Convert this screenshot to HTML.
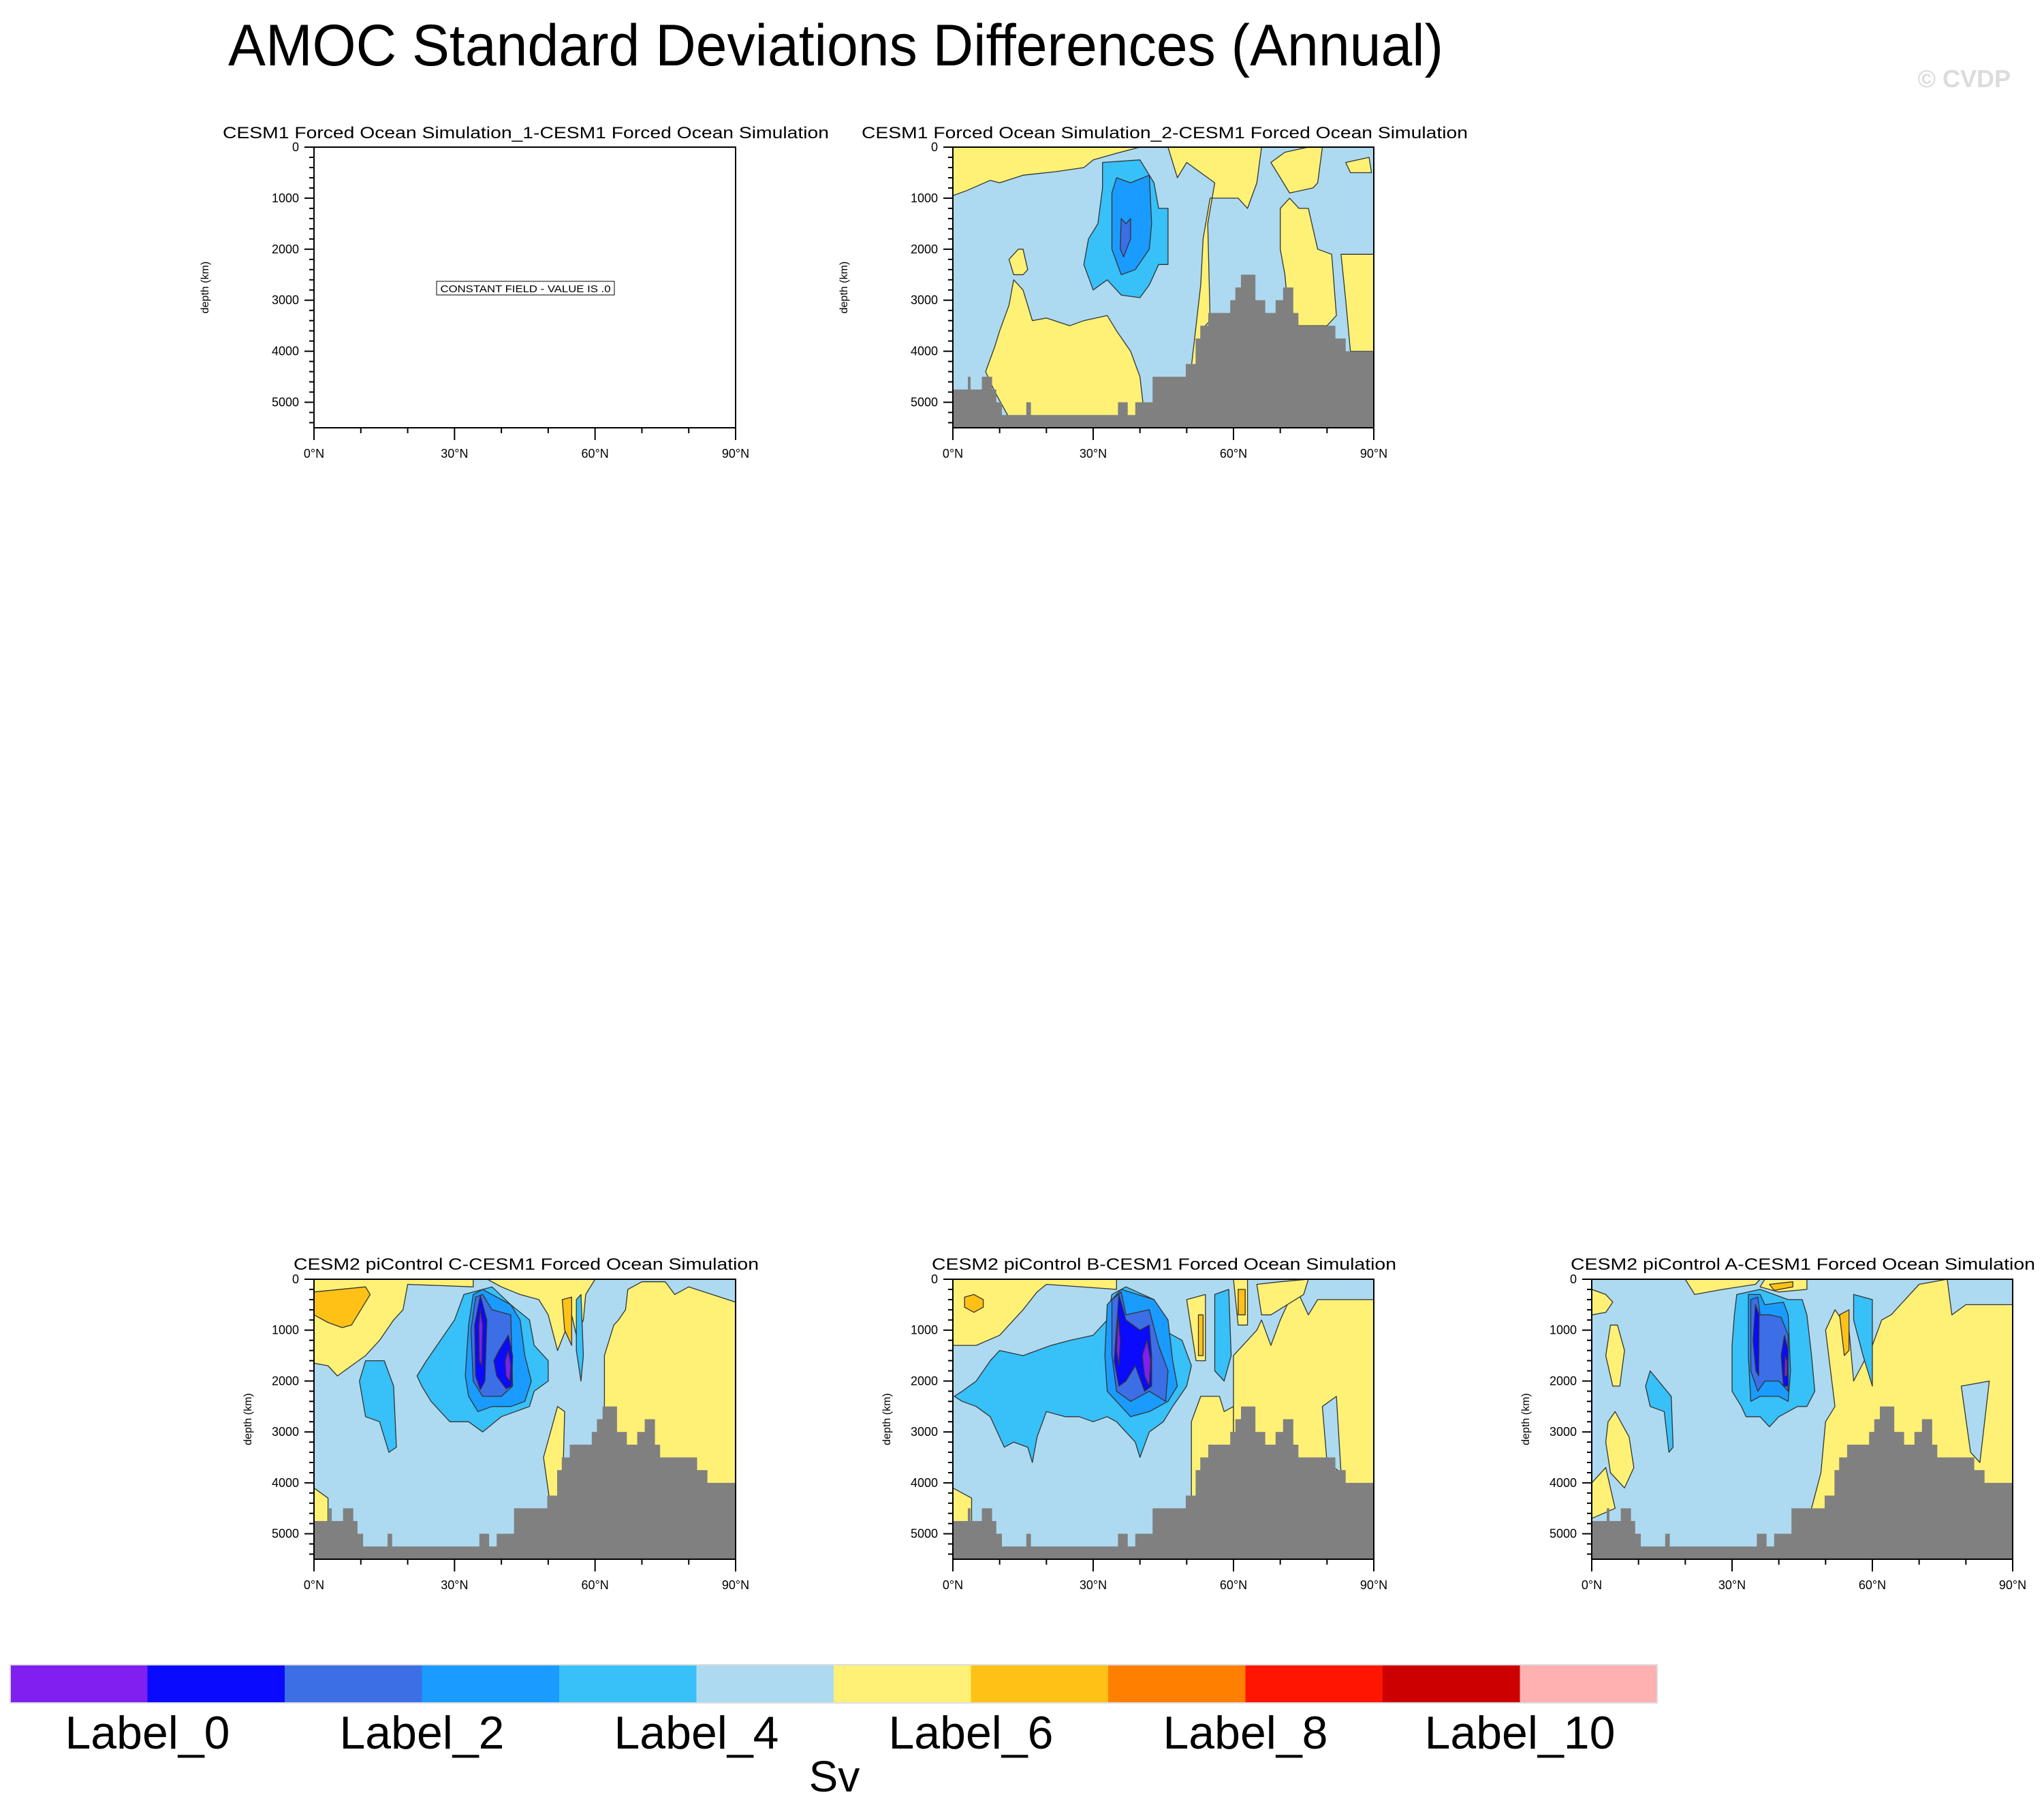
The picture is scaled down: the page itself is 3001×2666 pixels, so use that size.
<!DOCTYPE html>
<html><head><meta charset="utf-8"><style>
html,body{margin:0;padding:0;background:#fff;}
svg{display:block;font-family:"Liberation Sans",sans-serif;}
</style></head><body>
<svg id="chart" xmlns="http://www.w3.org/2000/svg" width="3001" height="2666" viewBox="0 0 3001 2666">
<rect width="3001" height="2666" fill="#fff"/>
<text x="1227" y="96" font-size="86" text-anchor="middle" textLength="1784" lengthAdjust="spacingAndGlyphs">AMOC Standard Deviations Differences (Annual)</text>
<text x="2952" y="128" font-size="36" font-weight="bold" fill="#dcdcdc" text-anchor="end">© CVDP</text>
</svg>
<script>
// ---- data ----
const levelColors=["#7F1FF0","#0A0AFF","#3C6FE6","#1A9BFF","#38C0F8","#ADDAF0","#FFF176","#FFC116","#FF8000","#FF1500","#CC0000","#FFB0B0"];
const cbLabels=["Label_0","Label_2","Label_4","Label_6","Label_8","Label_10"];
const latTicks=[0,30,60,90];
const depthTicks=[0,1000,2000,3000,4000,5000];
const bathyEdges=[0,3.2,3.7,6.2,8.3,9.2,10.4,15.7,16.6,35.3,37.3,39.0,42.7,49.8,51.9,52.9,54.6,59.3,60.4,61.6,64.6,66.7,69.0,70.6,72.7,73.8,81.7,83.9,90];
const bathyDepths=[4750,4500,4750,4500,4750,5000,5250,5000,5250,5000,5250,5000,4500,4250,3750,3500,3250,3000,2750,2500,3000,3250,3000,2750,3250,3500,3750,4000];
const panelTitles=["CESM1 Forced Ocean Simulation_1-CESM1 Forced Ocean Simulation","CESM1 Forced Ocean Simulation_2-CESM1 Forced Ocean Simulation","CESM2 piControl C-CESM1 Forced Ocean Simulation","CESM2 piControl B-CESM1 Forced Ocean Simulation","CESM2 piControl A-CESM1 Forced Ocean Simulation"];
// contour regions: [level index, [[lat,depth],...]]
const regions2=[
[6,[[0,0],[40,0],[35,120],[30,250],[28,400],[22,480],[15,550],[10,700],[8,650],[3,850],[0,950]]],
[6,[[7,4400],[9,3900],[10,3600],[12,3100],[13,2600],[15,2800],[17,3400],[20,3350],[25,3500],[28,3400],[33,3300],[35,3600],[38,4000],[40,4500],[41,5300],[12,5300],[9,4800]]],
[6,[[12,2200],[14,2000],[15,2000],[16,2400],[15,2500],[13,2500]]],
[6,[[46,0],[66,0],[65,700],[63,1200],[61,1000],[58,1000],[55,1000],[53.5,1800],[53,2700],[51,4300],[52.5,4300],[54,3500],[55,3400],[54.5,1500],[56,700],[50,300],[48,600]]],
[6,[[70,1200],[72,1000],[74,1200],[76,1200],[78,2000],[81,2100],[82,3300],[80,3500],[72,3500],[71,2500],[70,2000]]],
[6,[[68,300],[71,100],[76,0],[79,0],[78,700],[77,800],[72,900],[70,600]]],
[6,[[83,2100],[90,2100],[90,4000],[85,4000],[84,3000]]],
[6,[[84,300],[89,200],[89.5,500],[85,500]]],
[4,[[32,300],[40,250],[43,700],[44,1200],[46,1200],[46,2300],[44,2300],[42,2700],[40,2950],[36,2900],[33,2600],[30,2800],[28,2300],[29,1800],[31,1500],[32,800]]],
[3,[[35,600],[38,700],[42,550],[42.5,1500],[42,2000],[39,2400],[36,2500],[34,2000],[34,900]]],
[2,[[36,1400],[37,1500],[38,1400],[38,1800],[36.5,2150],[35.8,2000]]]
];
const regionsC=[
[6,[[0,0],[34,0],[34,150],[20,100],[19,600],[17,800],[14,1200],[11,1500],[8,1700],[5,1900],[3,1700],[0,1650]]],
[7,[[0,250],[11,150],[12,300],[8,900],[6,950],[3,850],[0,700]]],
[6,[[37,0],[60,0],[58,300],[57.5,800],[56,1100],[55,700],[52,1400],[50,700],[48,400],[44,300],[40,150]]],
[7,[[53,400],[55,350],[55,1300],[53.5,1000]]],
[6,[[62,1500],[64,900],[65,800],[66.5,600],[67,200],[70,50],[75,50],[77,300],[80,150],[90,450],[90,5500],[62,5500]]],
[6,[[49,3500],[52,2500],[53.5,2600],[53,4400],[51,4800]]],
[6,[[0,4100],[3,4300],[3,4800],[0,4800]]],
[4,[[11,1600],[15,1600],[17,2100],[17.6,3300],[16,3400],[14,2800],[11,2700],[9.7,2000]]],
[4,[[32,300],[38,150],[42,500],[46,800],[47,1300],[50,1600],[50,2000],[47,2200],[46,2500],[43,2600],[40,2700],[36,3000],[33,2800],[29,2800],[27,2600],[25,2400],[23,2100],[22,1900],[24,1600],[27,1200],[30,800]]],
[4,[[56,400],[57,300],[57.5,1500],[57,2000],[56,1400]]],
[3,[[34,300],[36,200],[42,500],[44,800],[45,1500],[46.4,2000],[45,2400],[42,2500],[38,2500],[35,2600],[33,2300],[32.3,1900],[33,900]]],
[2,[[34.5,350],[36,300],[38,600],[42,700],[42.4,2100],[40,2300],[36,2300],[34,2000],[33.5,1000]]],
[1,[[35.5,320],[36.9,800],[36.5,2000],[35.5,2170],[34.5,1900],[34.3,900]]],
[1,[[41.5,1100],[42.4,1500],[42.2,2100],[41,2150],[39,1900],[38.4,1600],[39.5,1400]]],
[0,[[35.5,600],[36,900],[35.8,1700],[35.3,1600],[35.2,900]]],
[0,[[41.5,1400],[42,1700],[41.8,2000],[41,1900],[40.8,1600]]]
];
const regionsB=[
[6,[[0,0],[35,0],[35,200],[20,100],[18,250],[15,600],[10,1100],[5,1300],[0,1300]]],
[7,[[2.5,350],[4.5,300],[6.5,400],[6.5,550],[4.5,650],[2.5,550]]],
[6,[[51,2800],[53,2300],[57,2300],[58,2600],[60,2500],[60,3500],[55,4000],[51,5500]]],
[6,[[50,400],[54,300],[54,1600],[52,1600]]],
[7,[[52.5,700],[53.5,700],[53.5,1500],[52.5,1500]]],
[6,[[60,1500],[61,1400],[63,1200],[65,1000],[66,800],[68,1300],[70,800],[72,400],[74,300],[76,700],[78,400],[83,400],[90,400],[90,5500],[60,5500]]],
[5,[[79,2500],[82,2300],[83,3800],[80,3600]]],
[6,[[60,0],[63,0],[63,900],[61,900]]],
[7,[[61,200],[62.5,200],[62.5,700],[61,700]]],
[6,[[65,100],[70,50],[76,0],[75,300],[68,700],[66,700]]],
[6,[[0,4100],[4,4300],[4,4800],[0,4800]]],
[4,[[0.3,2300],[2,2200],[5,2000],[8,1600],[10,1400],[15,1500],[18,1400],[21,1300],[25,1200],[30,1100],[33,800],[34,300],[37,150],[43,400],[45,1000],[49,1200],[51,1700],[50,2100],[47,2500],[45,2800],[42,3000],[40,3500],[39,3200],[35,2800],[33,2700],[30,2800],[27,2700],[24,2700],[20,2600],[18,3100],[17,3600],[16,3300],[13,3200],[11,3300],[8,2700],[5,2500],[2,2400]]],
[4,[[56,300],[59,200],[59.5,1500],[58,2000],[56,1800]]],
[3,[[33,500],[36,200],[43,400],[46,800],[47,1600],[48,2100],[46,2400],[42,2600],[38,2700],[35,2400],[33,2200],[32.5,1500]]],
[2,[[34,400],[36,250],[37,700],[42,600],[44,1300],[46,1800],[45.5,2400],[42,2200],[38,2400],[35,2200],[34,1500]]],
[1,[[35.5,300],[37,800],[40,1000],[42,900],[42.5,1500],[42.5,2100],[41,2200],[39,1700],[37,2000],[35.5,2100],[34.5,1600]]],
[0,[[35.3,700],[35.8,1200],[35.5,1700],[35,1400]]],
[0,[[41.5,1200],[42.3,1600],[42,2100],[41,1900],[40.5,1500]]]
];
const regionsA=[
[6,[[0,200],[3,300],[4.5,450],[3,650],[0,700]]],
[6,[[4,900],[5.5,900],[7,1400],[6,2100],[4.5,2100],[3,1500]]],
[6,[[3.5,2800],[5,2600],[8,3100],[9,3700],[7,4100],[4,3800],[3,3200]]],
[6,[[0,4000],[3,3700],[5,4500],[0,4700]]],
[6,[[20,0],[36,0],[35,100],[28,200],[22,300]]],
[6,[[37,0],[46,0],[46,200],[40,250],[36,150]]],
[7,[[38,100],[43,50],[43,150],[39,220]]],
[6,[[50,1000],[52,600],[55,1000],[56,2000],[60,1300],[62,800],[64,700],[67,400],[70,100],[76,0],[77,700],[80,500],[90,500],[90,5500],[45,5500],[47,4500],[49,3800],[50,2800],[52,2500]]],
[5,[[79,2100],[85,2000],[83,3600],[81,3400]]],
[7,[[53,700],[55,600],[55,1400],[54,1500]]],
[4,[[56,300],[60,400],[60,2100],[58,1500],[56,800]]],
[4,[[12.5,1800],[17,2300],[17.4,3300],[16.5,3400],[15.5,2600],[12.5,2500],[11.5,2100]]],
[4,[[31,300],[36,200],[42,400],[45,400],[46,700],[47,1500],[47.7,2200],[46,2500],[44,2500],[40,2700],[38,2900],[36,2700],[33,2700],[32,2500],[30,2200],[30,1300],[30.5,700]]],
[3,[[33.5,300],[36,300],[37,500],[41,450],[42,700],[42.5,1800],[42,2400],[40,2300],[36,2300],[34,2400],[33.5,1500]]],
[2,[[34,400],[35.5,350],[36,700],[38,700],[40.5,750],[42,1100],[42,2200],[40,2000],[37,2000],[35.5,2200],[34,1800]]],
[1,[[35,500],[35.8,700],[35.7,1900],[35.1,1800],[34.5,1200]]],
[1,[[41.2,1100],[42,1400],[42,2100],[41,2100],[40.5,1500]]],
[0,[[41.3,1500],[41.8,1600],[41.8,1900],[41.2,1900]]]
];
// ---- drawing ----
const NS="http://www.w3.org/2000/svg";
const svg=document.getElementById("chart");
function mk(tag,attrs,parent){const e=document.createElementNS(NS,tag);for(const k in attrs)e.setAttribute(k,attrs[k]);(parent||svg).appendChild(e);return e;}
const panels=[
{x:461,y:216,w:619,h:412,title:0,tx:327,tw:890,ty:203,regions:null,yt:155},
{x:1399,y:216,w:618,h:412,title:1,tx:1265,tw:890,ty:203,regions:regions2,yt:155},
{x:461,y:1878,w:619,h:411,title:2,tx:431,tw:683,ty:1864,regions:regionsC,yt:92},
{x:1399,y:1878,w:618,h:411,title:3,tx:1368,tw:682,ty:1864,regions:regionsB,yt:92},
{x:2337,y:1878,w:618,h:411,title:4,tx:2306,tw:682,ty:1864,regions:regionsA,yt:92}
];
panels.forEach((p,pi)=>{
  const g=mk("g",{});
  
  
  const xs=lat=>p.x+lat/90*p.w;
  const ys=d=>p.y+d/5500*p.h;
  const t=mk("text",{x:p.tx+p.tw/2,y:p.ty,"font-size":24,"text-anchor":"middle",textLength:p.tw,lengthAdjust:"spacingAndGlyphs"},g);
  t.textContent=panelTitles[p.title];
  
  
  if(p.regions){
    const bg=mk("rect",{x:p.x,y:p.y,width:p.w,height:p.h,fill:levelColors[5]},g);
    
    
    const cp="clip"+pi;
    const cl=mk("clipPath",{id:cp},g);mk("rect",{x:p.x,y:p.y,width:p.w,height:p.h},cl);
    const rg=mk("g",{"clip-path":"url(#"+cp+")"},g);
    p.regions.forEach(r=>{
      const pts=r[1].map(q=>xs(q[0]).toFixed(1)+","+ys(q[1]).toFixed(1)).join(" ");
      const poly=mk("polygon",{points:pts,fill:levelColors[r[0]],stroke:"#333","stroke-width":1.3,"stroke-linejoin":"round"},rg);
      
      
    });
    for(let i=0;i<bathyDepths.length;i++){
      const b=mk("rect",{x:xs(bathyEdges[i]),y:ys(bathyDepths[i]),width:xs(bathyEdges[i+1])-xs(bathyEdges[i])+0.6,height:ys(5500)-ys(bathyDepths[i]),fill:"#808080"},g);
      
      
    }
  } else {
    const lab=mk("rect",{x:641,y:413,width:261,height:20,fill:"#fff",stroke:"#000","stroke-width":1},g);
    
    
    const lt=mk("text",{x:771.5,y:429,"font-size":15,"text-anchor":"middle",textLength:250,lengthAdjust:"spacingAndGlyphs"},g);
    lt.textContent="CONSTANT FIELD - VALUE IS .0";
    
    
  }
  const fr=mk("rect",{x:p.x,y:p.y,width:p.w,height:p.h,fill:"none",stroke:"#000","stroke-width":2},g);
  
  
  for(let d=0;d<=5400;d+=200){
    const major=d%1000===0;
    mk("line",{x1:p.x,x2:p.x-(major?14:7),y1:ys(d),y2:ys(d),stroke:"#000","stroke-width":2},g);
  }
  depthTicks.forEach(d=>{
    const tt=mk("text",{x:p.x-22,y:ys(d)+6,"font-size":18,"text-anchor":"end"},g);
    tt.textContent=d;
    
    
  });
  for(let l=0;l<=90;l+=10){
    const major=l%30===0;
    mk("line",{x1:xs(l),x2:xs(l),y1:p.y+p.h,y2:p.y+p.h+(major?18:8),stroke:"#000","stroke-width":2},g);
  }
  latTicks.forEach(l=>{
    const tt=mk("text",{x:xs(l),y:p.y+p.h+44,"font-size":18,"text-anchor":"middle"},g);
    tt.textContent=l+"°N";
    
    
  });
  const ya=mk("text",{x:0,y:0,"font-size":16,"text-anchor":"middle",transform:"translate("+(p.x-p.yt)+","+(p.y+p.h/2)+") rotate(-90)"},g);
  ya.textContent="depth (km)";
  
  
});
const cbX=15,cbW=2418,cbY=2444,cbH=56,n=levelColors.length,bw=cbW/n;
levelColors.forEach((c,i)=>{
  const r=mk("rect",{x:cbX+i*bw,y:cbY,width:bw+0.5,height:cbH,fill:c});
  
  
});
const cbf=mk("rect",{x:cbX,y:cbY,width:cbW,height:cbH,fill:"none",stroke:"#ddd","stroke-width":2});


cbLabels.forEach((s,i)=>{
  const t=mk("text",{x:cbX+(2*i+1)*bw,y:2567,"font-size":68,"text-anchor":"middle"});
  t.textContent=s;
  
  
});
const sv=mk("text",{x:1225,y:2630,"font-size":64,"text-anchor":"middle"});
sv.textContent="Sv";


</script>
</body></html>
